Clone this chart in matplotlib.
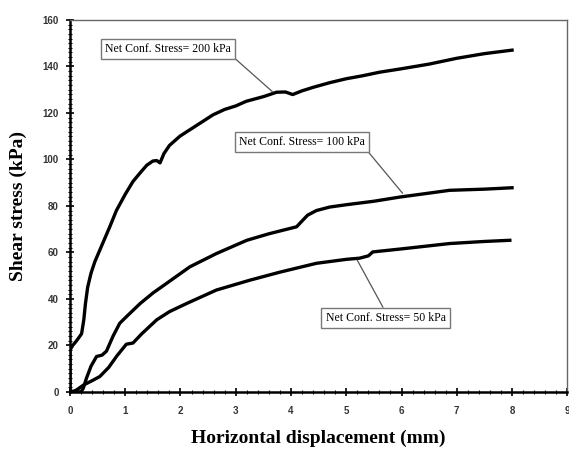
import matplotlib
matplotlib.use("Agg")
import matplotlib.pyplot as plt
import matplotlib.ticker as mticker

# ── Data ──────────────────────────────────────────────────────────────────────
x200 = [0, 0, 0.05, 0.12, 0.21, 0.25, 0.28, 0.32, 0.38, 0.45, 0.54, 0.63, 0.72,
        0.84, 1.0, 1.14, 1.28, 1.39, 1.5, 1.57, 1.63, 1.7, 1.8, 1.99, 2.29,
        2.59, 2.8, 3.0, 3.19, 3.5, 3.74, 3.9, 4.03, 4.2, 4.4, 4.7, 5.0, 5.3,
        5.6, 6.0, 6.5, 7.0, 7.5, 8.0]
y200 = [0, 18, 20, 22, 25, 31, 38, 45, 51, 56, 61, 66, 71,
        78, 85, 90.5, 94.5, 97.5, 99.3, 99.5, 98.5, 102.5, 106, 110, 114.6,
        119.2, 121.5, 123, 125, 127, 128.9, 129, 127.9, 129.5, 131, 133, 134.7, 136,
        137.5, 139, 141, 143.5, 145.5, 147]

x100 = [0, 0.2, 0.24, 0.3, 0.38, 0.48, 0.58, 0.66, 0.78, 0.9, 1.05, 1.27, 1.5,
        1.75, 2.17, 2.65, 3.2, 3.6, 4.0, 4.1, 4.3, 4.46, 4.7, 5.0, 5.5, 5.97,
        6.5, 6.87, 7.5, 8.0]
y100 = [0, 0, 1.5, 6, 11, 15.2, 15.8, 17.5, 24, 29.5, 33, 38, 42.5,
        46.7, 53.8, 59.5, 65.2, 68, 70.4, 71, 76, 78, 79.5, 80.5, 82, 83.8,
        85.5, 86.7, 87.2, 87.8]

x50 = [0, 0.1, 0.25, 0.4, 0.54, 0.7, 0.85, 1.02, 1.14, 1.3, 1.57, 1.8, 2.11,
       2.65, 3.25, 3.8, 4.46, 5.0, 5.24, 5.4, 5.48, 6.0, 6.87, 7.5, 7.96]
y50 = [0, 0.5, 3, 4.8, 6.6, 10.5, 15.5, 20.5, 21, 25, 31, 34.5, 38,
       43.8, 48, 51.5, 55.3, 57, 57.5, 58.5, 60.2, 61.5, 63.8, 64.7, 65.2]

labels = ["Net Conf. Stress= 200 kPa", "Net Conf. Stress= 100 kPa",
          "Net Conf. Stress= 50 kPa"]
# arrow tip (on curve) and text centre for each label
tips = [(3.67, 129), (6.02, 85.4), (5.2, 56.6)]
text_pos = [(1.77, 147.6), (4.2, 107.5), (5.71, 31.8)]
relpos = [(1, 0), (1, 0), (0.5, 1)]

# ── Figure ────────────────────────────────────────────────────────────────────
fig = plt.figure(figsize=(5.69, 4.53), dpi=100)
ax = fig.add_axes([0.123, 0.135, 0.874, 0.821])

for xs, ys in [(x200, y200), (x100, y100), (x50, y50)]:
    ax.plot(xs, ys, color="black", lw=2.4, solid_joinstyle="round")

for lab, tip, tp, rp in zip(labels, tips, text_pos, relpos):
    ax.annotate(lab, xy=tip, xytext=tp, ha="center", va="center",
                fontsize=8.5, family="Liberation Serif",
                bbox=dict(boxstyle="square,pad=0.35", fc="white", ec="#777777", lw=1),
                arrowprops=dict(arrowstyle="-", color="#555555", lw=0.9,
                                relpos=rp, shrinkA=0, shrinkB=0))

ax.set_xlim(0, 9)
ax.set_ylim(0, 160)
ax.xaxis.set_major_locator(mticker.MultipleLocator(1))
ax.xaxis.set_minor_locator(mticker.MultipleLocator(0.2))
ax.yaxis.set_major_locator(mticker.MultipleLocator(20))
ax.yaxis.set_minor_locator(mticker.MultipleLocator(2))
ax.tick_params(which="major", direction="inout", length=6, width=1.2,
               labelsize=7, labelcolor="#333333")
ax.tick_params(axis="x", which="major", pad=7)
ax.tick_params(axis="y", which="major", pad=5)
ax.tick_params(which="minor", direction="inout", length=3, width=0.8)
for lbl in ax.get_xticklabels() + ax.get_yticklabels():
    lbl.set_fontweight("bold")
    lbl.set_family("Liberation Sans")

for s in ["left", "bottom"]:
    ax.spines[s].set_linewidth(1.8)
for s in ["top", "right"]:
    ax.spines[s].set_linewidth(1.0)
    ax.spines[s].set_color("#666666")

ax.set_xlabel("Horizontal displacement (mm)", fontsize=14, fontweight="bold",
              family="Liberation Serif", labelpad=10)
ax.set_ylabel("Shear stress (kPa)", fontsize=14, fontweight="bold",
              family="Liberation Serif", labelpad=11)

fig.savefig("out.png", dpi=100)
